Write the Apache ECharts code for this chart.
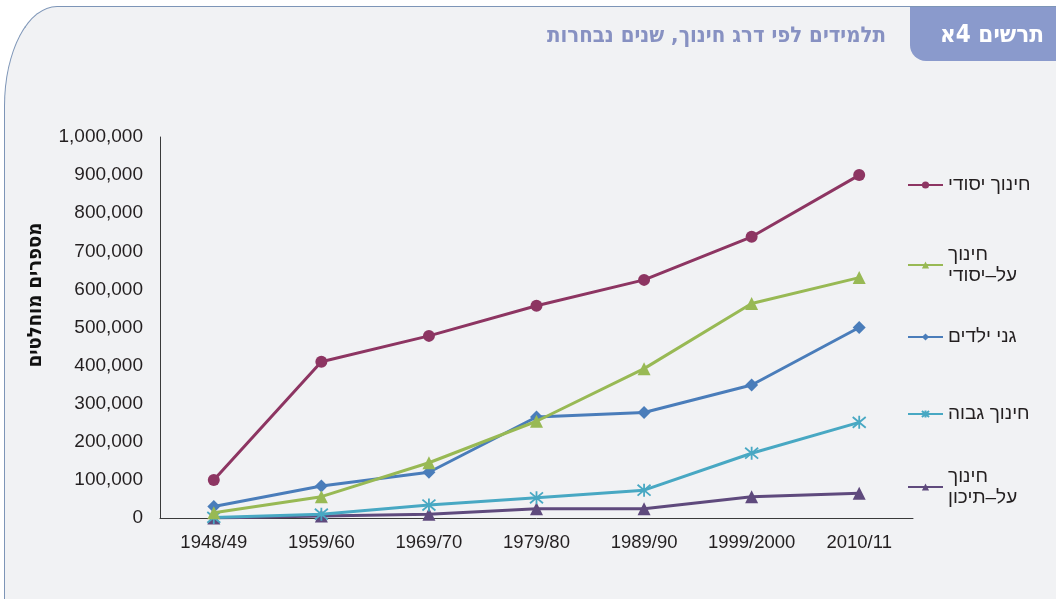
<!DOCTYPE html>
<html>
<head>
<meta charset="utf-8">
<script src="https://cdn.jsdelivr.net/npm/echarts@6/dist/echarts.min.js"></script>
<style>
  html, body { margin: 0; padding: 0; background: #ffffff; }
  #wrap { position: relative; width: 1056px; height: 599px; overflow: hidden; }
  #panel {
    position: absolute; left: 4px; top: 6px; width: 1100px; height: 700px;
    background: #f1f2f4;
    border-left: 1.3px solid #7d95b7;
    border-top: 1.3px solid #7d95b7;
    border-top-left-radius: 53px 100px;
  }
  #chart { position: absolute; left: 0; top: 0; width: 1056px; height: 599px; }
</style>
</head>
<body>
<div id="wrap">
  <div id="panel"></div>
  <div id="chart"></div>
</div>
<script>
const years = ['1948/49', '1959/60', '1969/70', '1979/80', '1989/90', '1999/2000', '2010/11']

const primary = [100000, 410000, 478000, 557000, 625000, 738000, 900000]
const secondary = [14000, 56000, 145000, 254000, 392000, 563000, 631000]
const kindergarten = [30000, 84000, 120000, 265000, 277000, 349000, 500000]
const higher = [1600, 10000, 34000, 53000, 73000, 170000, 251000]
const postSecondary = [0, 5000, 10000, 24000, 24000, 56000, 65000]

const seriesNames = ['חינוך יסודי', 'חינוך\nעל–יסודי', 'גני ילדים', 'חינוך גבוה', 'חינוך\nעל–תיכון']
const legendCenters = [185, 265, 337, 414, 487]

const title = 'תלמידים לפי דרג חינוך, שנים נבחרות'
const tag = 'תרשים 4א'
const yTitle = 'מספרים מוחלטים'

const starSymbol = 'path://M0,0L10,10M10,0L0,10M5,-1L5,11'

const styles = [
  { color: '#8d3562', symbol: 'circle', size: 12 },
  { color: '#98b954', symbol: 'triangle', size: 13 },
  { color: '#4a7dba', symbol: 'diamond', size: 13 },
  { color: '#48a8c3', symbol: starSymbol, size: 13 },
  { color: '#5f4a7d', symbol: 'triangle', size: 13 }
]

const values = [primary, secondary, kindergarten, higher, postSecondary]

const chart = echarts.init(document.getElementById('chart'))

const font = '"Liberation Sans", Arial, sans-serif'
const condensed = '"DejaVu Sans Condensed", "DejaVu Sans", sans-serif'

chart.setOption({
  animation: false,
  graphic: [
    {
      type: 'rect',
      z: -5,
      shape: { x: 910, y: 7, width: 160, height: 54, r: [0, 0, 0, 16] },
      style: { fill: '#8a9acc' }
    },
    {
      type: 'text',
      x: 992,
      y: 36,
      style: {
        text: tag, fill: '#ffffff', font: 'bold 24px ' + condensed,
        align: 'center', verticalAlign: 'middle'
      }
    },
    {
      type: 'text',
      x: 886,
      y: 36,
      style: {
        text: title, fill: '#8791c2', font: 'bold 22px ' + condensed,
        align: 'right', verticalAlign: 'middle'
      }
    },
    {
      type: 'text',
      x: 36,
      y: 295,
      rotation: Math.PI / 2,
      style: {
        text: yTitle, fill: '#111111', font: 'bold 20px ' + condensed,
        align: 'center', verticalAlign: 'middle'
      }
    }
  ],
  grid: {
    left: 160,
    right: 143,
    top: 137,
    bottom: 81
  },
  legend: seriesNames.map((name, i) => ({
    data: [name],
    orient: 'vertical',
    left: 907,
    top: legendCenters[i] - (name.includes('\n') ? 21 : 10.5),
    itemWidth: 35,
    itemHeight: 9,
    itemGap: 8,
    padding: 0,
    selectedMode: false,
    textStyle: { fontFamily: font, fontSize: 19, lineHeight: 21, color: '#231f20' }
  })),
  xAxis: {
    type: 'category',
    data: years,
    boundaryGap: true,
    axisLine: { lineStyle: { color: '#3a3a3a', width: 1 } },
    axisTick: { show: false },
    axisLabel: { fontFamily: font, fontSize: 18.5, color: '#231f20', margin: 15, interval: 0 },
    splitLine: { show: false }
  },
  yAxis: {
    type: 'value',
    min: 0,
    max: 1000000,
    interval: 100000,
    axisLine: { show: true, lineStyle: { color: '#3a3a3a', width: 1 } },
    axisTick: { show: false },
    splitLine: { show: false },
    axisLabel: {
      fontFamily: font,
      fontSize: 19,
      color: '#231f20',
      margin: 17,
      formatter: (v) => v.toLocaleString('en-US')
    }
  },
  series: seriesNames.map((name, i) => ({
    name,
    type: 'line',
    data: values[i],
    symbol: styles[i].symbol,
    symbolSize: styles[i].size,
    showSymbol: true,
    lineStyle: { width: 3, color: styles[i].color },
    itemStyle: {
      color: styles[i].color,
      borderColor: styles[i].color,
      borderWidth: i === 3 ? 1.8 : 0
    },
    z: 10 - i
  }))
})
</script>
</body>
</html>
